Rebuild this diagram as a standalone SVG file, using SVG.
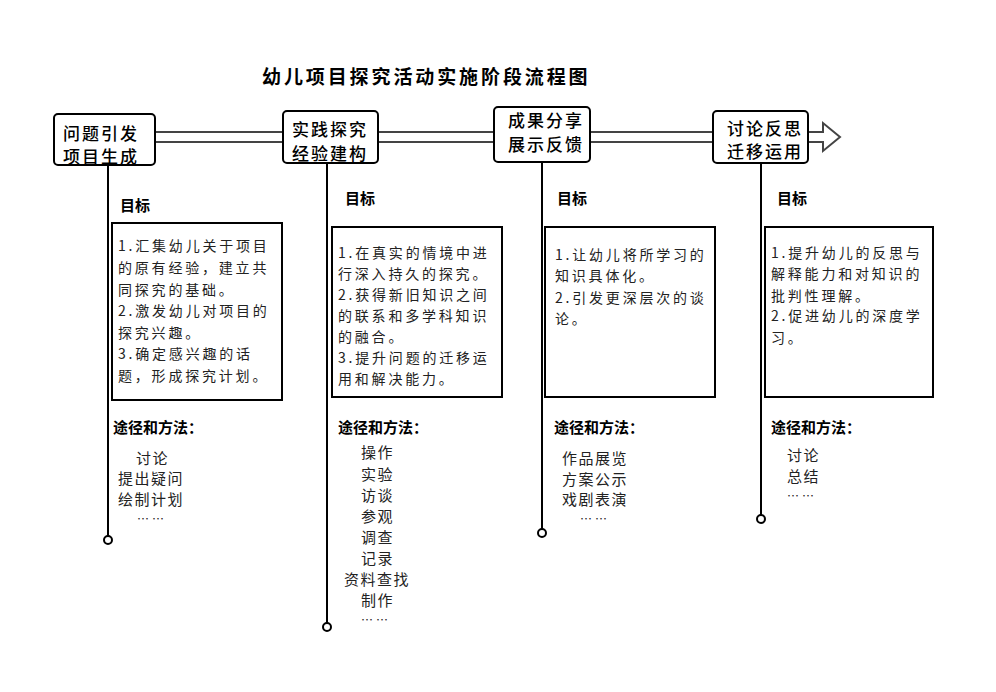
<svg xmlns="http://www.w3.org/2000/svg" width="996" height="692" viewBox="0 0 996 692">
<style>
text{font-family:"Noto Sans CJK SC","Liberation Sans",sans-serif;fill:#000}
.title{font-size:19px;font-weight:bold;letter-spacing:2.9px}
.stage{font-size:17px;font-weight:500;letter-spacing:2px}
.box{fill:#fff;stroke:#000;stroke-width:2}
.goal{fill:#fff;stroke:#000;stroke-width:2}
.h{font-size:15px;font-weight:bold}
.t{font-size:14px;letter-spacing:2.8px;fill:#222}
.m{font-size:15px;letter-spacing:1.5px;fill:#222}
.e{font-size:12px;letter-spacing:3px;fill:#222}
.v{stroke:#000;stroke-width:2;fill:none}
.end{fill:#fff;stroke:#000;stroke-width:2}
</style>
<rect width="996" height="692" fill="#fff"/>
<text class="title" x="262" y="84">幼儿项目探究活动实施阶段流程图</text>
<g id="connectors">
<polygon points="155,132 823,132 823,123 840,137 823,151 823,142 155,142" fill="#fff" stroke="#444" stroke-width="2"/>
<line class="v" x1="108" y1="165" x2="108" y2="536"/>
<circle class="end" cx="108" cy="540" r="4"/>
<line class="v" x1="327" y1="163" x2="327" y2="623"/>
<circle class="end" cx="327" cy="627" r="4"/>
<line class="v" x1="542" y1="162" x2="542" y2="529"/>
<circle class="end" cx="542" cy="533" r="4"/>
<line class="v" x1="761" y1="163" x2="761" y2="515"/>
<circle class="end" cx="761" cy="519" r="4"/>
</g>
<g id="stage1">
<rect class="box" x="54" y="114" width="101" height="51" rx="4"/>
<text class="stage" x="63" y="140">问题引发</text>
<text class="stage" x="63" y="163">项目生成</text>
</g>
<g id="stage2">
<rect class="box" x="283" y="111" width="95" height="52" rx="4"/>
<text class="stage" x="292" y="136">实践探究</text>
<text class="stage" x="292" y="160">经验建构</text>
</g>
<g id="stage3">
<rect class="box" x="494" y="107" width="96" height="55" rx="4"/>
<text class="stage" x="508" y="127">成果分享</text>
<text class="stage" x="508" y="151">展示反馈</text>
</g>
<g id="stage4">
<rect class="box" x="713" y="111" width="95" height="52" rx="4"/>
<text class="stage" x="727" y="135">讨论反思</text>
<text class="stage" x="727" y="158">迁移运用</text>
</g>
<g id="detail1">
<text class="h" x="120" y="211">目标</text>
<rect class="goal" x="112" y="223" width="170" height="177"/>
<text class="t" x="118" y="251">1.汇集幼儿关于项目</text>
<text class="t" x="118" y="273">的原有经验，建立共</text>
<text class="t" x="118" y="295">同探究的基础。</text>
<text class="t" x="118" y="316">2.激发幼儿对项目的</text>
<text class="t" x="118" y="338">探究兴趣。</text>
<text class="t" x="118" y="359">3.确定感兴趣的话</text>
<text class="t" x="118" y="381">题，形成探究计划。</text>
<text class="h" x="113" y="433">途径和方法：</text>
<text class="m" x="136" y="464">讨论</text>
<text class="m" x="118" y="484">提出疑问</text>
<text class="m" x="118" y="505">绘制计划</text>
<text class="e" x="137" y="524">……</text>
</g>
<g id="detail2">
<text class="h" x="345" y="204">目标</text>
<rect class="goal" x="332" y="227" width="170" height="170"/>
<text class="t" x="338" y="258">1.在真实的情境中进</text>
<text class="t" x="338" y="279">行深入持久的探究。</text>
<text class="t" x="338" y="300">2.获得新旧知识之间</text>
<text class="t" x="338" y="321">的联系和多学科知识</text>
<text class="t" x="338" y="342">的融合。</text>
<text class="t" x="338" y="363">3.提升问题的迁移运</text>
<text class="t" x="338" y="384">用和解决能力。</text>
<text class="h" x="338" y="433">途径和方法：</text>
<text class="m" x="361" y="458">操作</text>
<text class="m" x="361" y="480">实验</text>
<text class="m" x="361" y="501">访谈</text>
<text class="m" x="361" y="522">参观</text>
<text class="m" x="361" y="543">调查</text>
<text class="m" x="361" y="564">记录</text>
<text class="m" x="344" y="585">资料查找</text>
<text class="m" x="361" y="606">制作</text>
<text class="e" x="361" y="625">……</text>
</g>
<g id="detail3">
<text class="h" x="557" y="204">目标</text>
<rect class="goal" x="545" y="227" width="170" height="170"/>
<text class="t" x="555" y="260">1.让幼儿将所学习的</text>
<text class="t" x="555" y="281">知识具体化。</text>
<text class="t" x="555" y="303">2.引发更深层次的谈</text>
<text class="t" x="555" y="324">论。</text>
<text class="h" x="554" y="433">途径和方法：</text>
<text class="m" x="562" y="464">作品展览</text>
<text class="m" x="562" y="485">方案公示</text>
<text class="m" x="562" y="505">戏剧表演</text>
<text class="e" x="580" y="524">……</text>
</g>
<g id="detail4">
<text class="h" x="777" y="204">目标</text>
<rect class="goal" x="765" y="227" width="168" height="170"/>
<text class="t" x="771" y="258">1.提升幼儿的反思与</text>
<text class="t" x="771" y="279">解释能力和对知识的</text>
<text class="t" x="771" y="301">批判性理解。</text>
<text class="t" x="771" y="321">2.促进幼儿的深度学</text>
<text class="t" x="771" y="343">习。</text>
<text class="h" x="771" y="433">途径和方法：</text>
<text class="m" x="787" y="461">讨论</text>
<text class="m" x="787" y="482">总结</text>
<text class="e" x="787" y="501">……</text>
</g>
</svg>
